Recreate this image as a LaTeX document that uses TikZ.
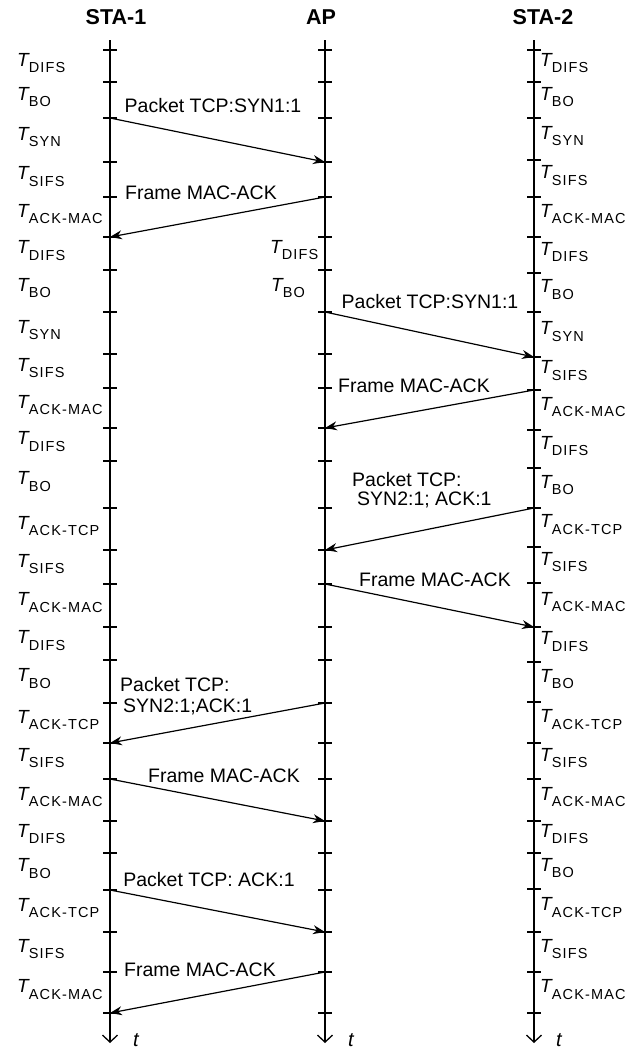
\documentclass[tikz,border=0pt]{standalone}
\usepackage{fontspec}
\setmainfont{Liberation Sans}
\usetikzlibrary{arrows.meta}
\newcommand{\Tlab}[1]{{\fontsize{19}{19}\selectfont\itshape T}\raisebox{-6.5pt}{\fontsize{14.5}{14.5}\selectfont\addfontfeature{LetterSpace=8}#1}}
\begin{document}
\begin{tikzpicture}[x=1pt,y=-1pt,
  life/.style={line width=2pt,-{Straight Barb[length=7pt,width=15pt,line width=1.3pt]}},
  tickmark/.style={line width=1.3pt},
  msg/.style={line width=1.2pt,-{Stealth[length=12pt,width=9pt]}},
  mlab/.style={font=\fontsize{19.5}{21}\selectfont, inner sep=0pt},
  tlab/.style={inner sep=0pt, anchor=west},
  head/.style={font=\fontsize{21.5}{22}\selectfont\bfseries, inner sep=0pt},
  tvar/.style={font=\fontsize{20}{20}\selectfont\itshape, inner sep=0pt}
]
\useasboundingbox (0,0) rectangle (639,1050);

% headers
\node[head] (h1) at (116,17) {STA-1};
\node[head] (h2) at (321,17) {AP};
\node[head] (h3) at (543,17) {STA-2};

% lifelines
\coordinate (s1top) at (110,40); \coordinate (s1bot) at (110,1043);
\coordinate (aptop) at (325,40); \coordinate (apbot) at (325,1043);
\coordinate (s2top) at (534,40); \coordinate (s2bot) at (534,1043);
\draw[life] (s1top) -- (s1bot);
\draw[life] (aptop) -- (apbot);
\draw[life] (s2top) -- (s2bot);

\node[tvar] (t1) at (136,1040) {t};
\node[tvar] (t2) at (351,1040) {t};
\node[tvar] (t3) at (559,1040) {t};

% ticks STA-1 and AP
\foreach \y [count=\i] in {50,82,118,162,197,237,270,312,354,388,428,461,508,550,584,627,660,703,743,779,821,853,890,932,972,1013}{
  \coordinate (a\i) at (110,\y);
  \coordinate (b\i) at (325,\y);
  \draw[tickmark] ([xshift=-7pt]a\i) -- ([xshift=7pt]a\i);
  \draw[tickmark] ([xshift=-7pt]b\i) -- ([xshift=7pt]b\i);
}
% ticks STA-2
\foreach \y [count=\i] in {50,82,118,160,197,237,273,312,357,390,430,468,508,547,583,627,662,702,743,779,821,853,889,932,972,1013}{
  \coordinate (c\i) at (534,\y);
  \draw[tickmark] ([xshift=-7pt]c\i) -- ([xshift=7pt]c\i);
}

% interval labels STA-1
\foreach \a/\b/\l in {50/82/DIFS, 82/118/BO, 118/162/SYN, 162/197/SIFS, 197/237/ACK-MAC, 237/270/DIFS, 270/312/BO, 312/354/SYN, 354/388/SIFS, 388/428/ACK-MAC, 428/461/DIFS, 461/508/BO, 508/550/ACK-TCP, 550/584/SIFS, 584/627/ACK-MAC, 627/660/DIFS, 660/703/BO, 703/743/ACK-TCP, 743/779/SIFS, 779/821/ACK-MAC, 821/853/DIFS, 853/890/BO, 890/932/ACK-TCP, 932/972/SIFS, 972/1013/ACK-MAC}{
  \node[tlab] at (17,{(\a+\b)/2-3}) {\Tlab{\l}};
}
% interval labels STA-2
\foreach \a/\b/\l in {50/82/DIFS, 82/118/BO, 118/160/SYN, 160/197/SIFS, 197/237/ACK-MAC, 237/273/DIFS, 273/312/BO, 312/357/SYN, 357/390/SIFS, 390/430/ACK-MAC, 430/468/DIFS, 468/508/BO, 508/547/ACK-TCP, 547/583/SIFS, 583/627/ACK-MAC, 627/662/DIFS, 662/702/BO, 702/743/ACK-TCP, 743/779/SIFS, 779/821/ACK-MAC, 821/853/DIFS, 853/889/BO, 889/932/ACK-TCP, 932/972/SIFS, 972/1013/ACK-MAC}{
  \node[tlab] at (540,{(\a+\b)/2-3}) {\Tlab{\l}};
}
% AP labels
\node[tlab] (apd) at (270,250) {\Tlab{DIFS}};
\node[tlab] (apb) at (271,288) {\Tlab{BO}};

% messages
\draw[msg] (a3) -- (b4);
\node[mlab] (m1) at (213,106) {Packet TCP:SYN1:1};
\draw[msg] (b5) -- (a6);
\node[mlab] (m2) at (201,193) {Frame MAC-ACK};
\draw[msg] (b8) -- (c9);
\node[mlab] (m3) at (430,302) {Packet TCP:SYN1:1};
\draw[msg] (c10) -- (b11);
\node[mlab] (m4) at (414,386) {Frame MAC-ACK};
\draw[msg] (c13) -- (b14);
\node[mlab,anchor=north west,align=left,font=\fontsize{19.5}{19}\selectfont] (m5) at (352,472) {Packet TCP:\\\hspace*{5pt}SYN2:1; ACK:1};
\draw[msg] (b15) -- (c16);
\node[mlab] (m6) at (435,580) {Frame MAC-ACK};
\draw[msg] (b18) -- (a19);
\node[mlab,anchor=north west,align=left,font=\fontsize{19.5}{21}\selectfont] (m7) at (120,677) {Packet TCP:\\\hspace*{3pt}SYN2:1;ACK:1};
\draw[msg] (a20) -- (b21);
\node[mlab] (m8) at (224,776) {Frame MAC-ACK};
\draw[msg] (a23) -- (b24);
\node[mlab] (m9) at (209,880) {Packet TCP: ACK:1};
\draw[msg] (b25) -- (a26);
\node[mlab] (m10) at (200,970) {Frame MAC-ACK};
\end{tikzpicture}
\end{document}
